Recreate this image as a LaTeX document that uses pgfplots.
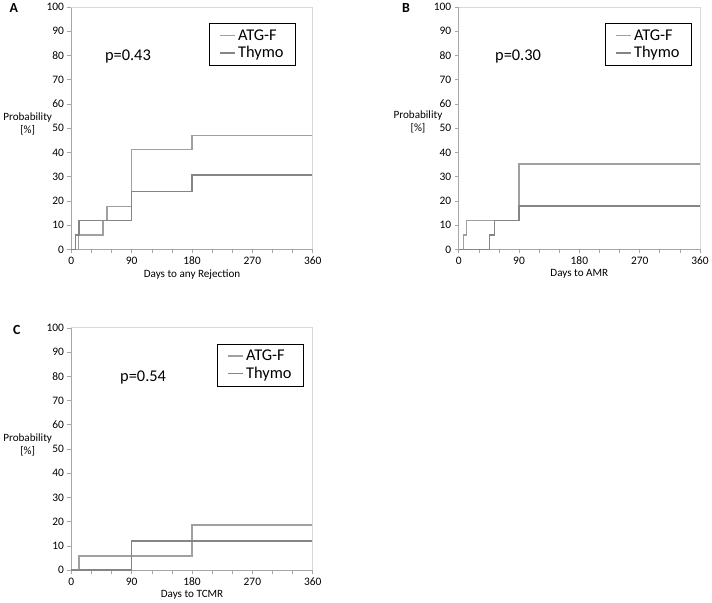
\documentclass[border=0pt]{standalone}
\usepackage{pgfplots}
\pgfplotsset{compat=1.18}
\usepackage{fontspec}
\setmainfont{Carlito}
\definecolor{lineA}{HTML}{A0A0A0}
\definecolor{lineB}{HTML}{858585}
\definecolor{axgray}{HTML}{A6A6A6}
\definecolor{boxgray}{HTML}{D9D9D9}
\pgfplotsset{
 km/.style={
  scale only axis, width=243pt, height=244pt,
  xmin=0, xmax=360, ymin=0, ymax=100,
  axis lines=left, axis line style={-, axgray, line width=0.8pt},
  xtick={0,90,180,270,360}, ytick={0,10,...,100},
  minor x tick num=2,
  tick align=outside,
  major tick length=4pt, minor tick length=4pt,
  every tick/.style={axgray, line width=0.6pt},
  tick label style={font=\fontsize{11.5}{13}\selectfont},
  /pgf/number format/assume math mode=true,
  xlabel style={font=\fontsize{11.2}{13}\selectfont, at={(axis description cs:0.5,0)}, anchor=center, yshift=-25pt},
  clip=false,
  legend style={anchor=north west, draw=black, line width=0.8pt,
     font=\fontsize{16.5}{20}\selectfont, inner xsep=10pt, inner ysep=4pt,
     row sep=1pt},
  legend cell align=left,
  legend image code/.code={\draw[#1, line width=1.5pt] (0pt,0pt) -- (15pt,0pt);},
 },
 kmA/.style={const plot, lineA, line width=1.4pt},
 kmB/.style={const plot, lineB, line width=1.4pt},
}
\begin{document}
\begin{tikzpicture}
\path (0pt,0pt) rectangle (712pt,-606pt);
\node[font=\bfseries\fontsize{14}{16}\selectfont] at (11pt,-8pt) {A};
\node[font=\bfseries\fontsize{14}{16}\selectfont] at (406pt,-8pt) {B};
\node[font=\bfseries\fontsize{14}{16}\selectfont] at (14pt,-332pt) {C};
% Panel A
\begin{axis}[km, at={(69pt,-251pt)}, anchor=south west,
  xlabel={Days to any Rejection},
  legend style={at={(0.572,0.934)}}]
\addplot[kmA] coordinates {(0,0) (10.4,5.9) (47,11.8) (53.3,17.6) (90,41.2) (180,47.1) (360,47.1)};
\addlegendentry{ATG-F}
\addplot[kmB] coordinates {(0,0) (6.4,5.9) (11.4,11.8) (90,23.9) (180,30.7) (360,30.7)};
\addlegendentry{Thymo}
\draw[boxgray, line width=0.8pt] (rel axis cs:0,1) -- (rel axis cs:1,1) -- (rel axis cs:1,0);
\node[font=\fontsize{16.5}{20}\selectfont] at (axis cs:84.4,79.5) {p=0.43};
\node[font=\fontsize{11.2}{13}\selectfont, align=center] at (rel axis cs:0,0.516) [xshift=-44pt] {Probability\\{[\%]}};
\end{axis}
% Panel B
\begin{axis}[km, at={(459pt,-251pt)}, anchor=south west,
  xlabel={Days to AMR},
  legend style={at={(0.608,0.934)}}]
\addplot[kmA] coordinates {(0,0) (6.9,5.9) (11.8,11.8) (90,35.3) (360,35.3)};
\addlegendentry{ATG-F}
\addplot[kmB] coordinates {(0,0) (46.4,5.9) (53.8,11.8) (90,17.9) (360,17.9)};
\addlegendentry{Thymo}
\draw[boxgray, line width=0.8pt] (rel axis cs:0,1) -- (rel axis cs:1,1) -- (rel axis cs:1,0);
\node[font=\fontsize{16.5}{20}\selectfont] at (axis cs:88.6,79.5) {p=0.30};
\node[font=\fontsize{11.2}{13}\selectfont, align=center] at (rel axis cs:0,0.525) [xshift=-41pt] {Probability\\{[\%]}};
\end{axis}
% Panel C
\begin{axis}[km, at={(69pt,-574pt)}, anchor=south west,
  xlabel={Days to TCMR},
  legend style={at={(0.605,0.934)}}]
\addplot[kmA] coordinates {(0,0) (11.4,5.9) (180,18.7) (360,18.7)};
\addlegendentry{ATG-F}
\addplot[kmB] coordinates {(0,0) (90,12.0) (360,12.0)};
\addlegendentry{Thymo}
\draw[boxgray, line width=0.8pt] (rel axis cs:0,1) -- (rel axis cs:1,1) -- (rel axis cs:1,0);
\node[font=\fontsize{16.5}{20}\selectfont] at (axis cs:107,79.5) {p=0.54};
\node[font=\fontsize{11.2}{13}\selectfont, align=center] at (rel axis cs:0,0.516) [xshift=-44pt] {Probability\\{[\%]}};
\end{axis}
\end{tikzpicture}
\end{document}
